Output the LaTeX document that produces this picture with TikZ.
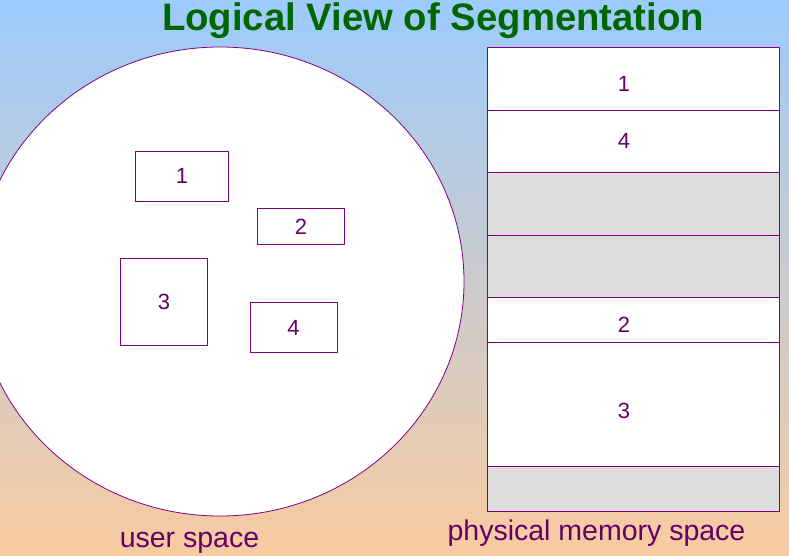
\documentclass[tikz,border=0pt]{standalone}
\usepackage{fontspec}
\setmainfont{Liberation Sans}
\usetikzlibrary{shapes.geometric}
\definecolor{bgtop}{HTML}{9CCBFC}
\definecolor{bgmid}{HTML}{D6C9DA}
\definecolor{bgbot}{HTML}{F8CBA0}
\definecolor{linec}{HTML}{800080}
\definecolor{txtc}{HTML}{660066}
\definecolor{titlec}{HTML}{006600}
\definecolor{freec}{HTML}{DDDDDD}
\begin{document}
\begin{tikzpicture}[x=1pt,y=-1pt,
  lbox/.style={draw=linec, fill=white, line width=0.8pt, inner sep=0pt, anchor=north west},
  seg/.style={draw=linec, fill=white, line width=0.8pt, inner sep=0pt, anchor=north west, minimum width=292pt},
  hole/.style={seg, fill=freec},
  num/.style={text=txtc, font=\fontsize{22}{24}\selectfont, inner sep=0pt},
  captext/.style={text=txtc, font=\fontsize{28.5}{30}\selectfont, inner sep=0pt, anchor=base}]
\useasboundingbox (0,0) rectangle (789,555);
\clip (0,0) rectangle (789,555);
\shade[top color=bgtop, middle color=bgmid, bottom color=bgbot] (0,0) rectangle (789,555);
% title
\node[text=titlec, font=\bfseries\fontsize{38.3}{41}\selectfont, inner sep=0pt, anchor=base] (title) at (433,30) {Logical View of Segmentation};
% user space
\node[ellipse, draw=linec, fill=white, line width=0.8pt, minimum width=488pt, minimum height=469pt, inner sep=0pt] (us) at (220,281.5) {};
\node[lbox, minimum width=93.6pt, minimum height=50.3pt] (b1) at (134.7,150.7) {};
\node[num] at (b1.center) {1};
\node[lbox, minimum width=87pt, minimum height=36pt] (b2) at (257,208.3) {};
\node[num] at (b2.center) {2};
\node[lbox, minimum width=86.7pt, minimum height=86.7pt] (b3) at (120.3,258.3) {};
\node[num] at (b3.center) {3};
\node[lbox, minimum width=87pt, minimum height=50.3pt] (b4) at (249.7,302) {};
\node[num] at (b4.center) {4};
% physical memory
\node[seg, minimum height=63pt] (m1) at (487.3,47.3) {};
\node[seg, minimum height=62pt] (m4) at (487.3,110.3) {};
\node[hole, minimum height=62.7pt] (g1) at (487.3,172.3) {};
\node[hole, minimum height=62.3pt] (g2) at (487.3,235) {};
\node[seg, minimum height=44.7pt] (m2) at (487.3,297.3) {};
\node[seg, minimum height=124pt] (m3) at (487.3,342) {};
\node[hole, minimum height=44.7pt] (g3) at (487.3,466) {};
\node[num] (t1) at (624,84) {1};
\node[num] (t4) at (624,141) {4};
\node[num] (t2) at (624,324.5) {2};
\node[num] (t3) at (624,410.5) {3};
% captions
\node[captext] (uslabel) at (189.5,547) {user space};
\node[captext] (pmlabel) at (596.5,540) {physical memory space};
\end{tikzpicture}
\end{document}
